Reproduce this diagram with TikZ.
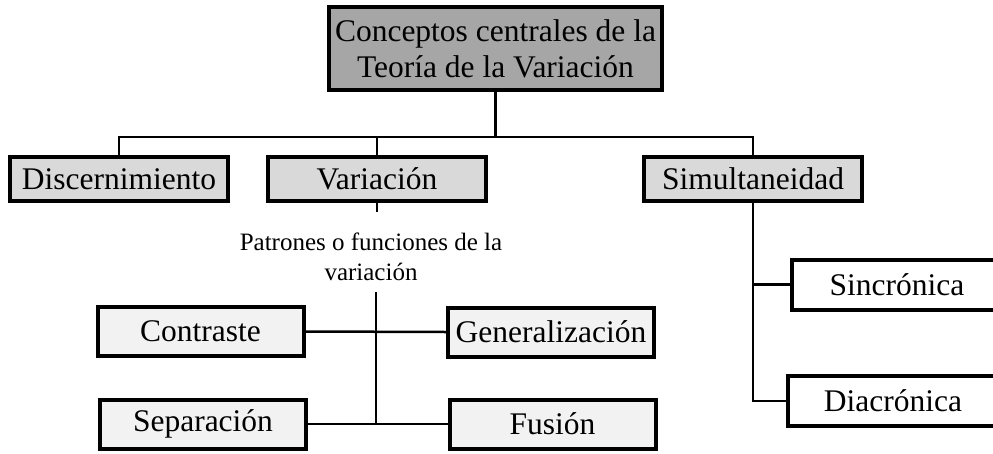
\documentclass[tikz,border=0pt]{standalone}
\usepackage{fontspec}
\setmainfont{Liberation Serif}
\usepackage{tikz}
\definecolor{topgray}{RGB}{166,166,166}
\definecolor{midgray}{RGB}{217,217,217}
\definecolor{lowgray}{RGB}{242,242,242}
\tikzset{
	box/.style={draw=black, line width=4pt, inner sep=0pt, align=center,
		font=\fontsize{31.5}{36}\selectfont},
	topbox/.style={box, fill=topgray, minimum width=333pt, minimum height=83pt},
	conceptbox/.style={box, fill=midgray, minimum width=218pt, minimum height=44pt},
	patternbox/.style={box, fill=lowgray, minimum width=206pt, minimum height=49pt},
	timebox/.style={box, fill=white, minimum width=210pt, minimum height=50pt},
	conn/.style={line width=2.5pt}
}

\begin{document}
\begin{tikzpicture}[x=1pt, y=-1pt]
			%%%%% START %%%%%
			\useasboundingbox (0, 0) rectangle (993, 453);
			
			\node[topbox] (top) at (495.5, 48.5) {Conceptos centrales de la\\Teoría de la Variación};
			
			\node[conceptbox] (disc) at (119, 179) {Discernimiento};
			\node[conceptbox] (var) at (377, 179) {Variación};
			\node[conceptbox] (simul) at (753, 179) {Simultaneidad};
			
			\draw[conn] (top.south) -- ++(0, 45) coordinate (bus);
			\draw[conn] (disc.north) |- (bus);
			\draw[conn] (simul.north) |- (bus);
			\draw[conn] (var.north) -- (var.north |- bus);
			
			\draw[conn] (var.south) -- ++(0, 9);
			\node[align=center, inner sep=0pt, font=\fontsize{25}{30}\selectfont] (pat) at (371, 257)
				{Patrones o funciones de la\\variación};
			
			\node[patternbox] (cont) at (200.5, 331.5) {Contraste};
			\node[patternbox] (gen) at (551, 332) {Generalización};
			\node[patternbox] (sep) at (203, 424) {Separación};
			\node[patternbox] (fus) at (552.5, 424) {Fusión};
			
			\coordinate (ptop) at (376, 292);
			\draw[conn] (ptop) -- (ptop |- sep.east);
			\draw[conn] (cont.east) -- (gen.west);
			\draw[conn] (sep.east) -- (fus.west);
			
			\node[timebox] (sinc) at (897, 284.5) {Sincrónica};
			\node[timebox] (diac) at (893, 401) {Diacrónica};
			
			\draw[conn] (simul.south) -- (simul.south |- diac.west) -- (diac.west);
			\draw[conn] (simul.south |- sinc.west) -- (sinc.west);
			%%%%% END %%%%%
\end{tikzpicture}
\end{document}
